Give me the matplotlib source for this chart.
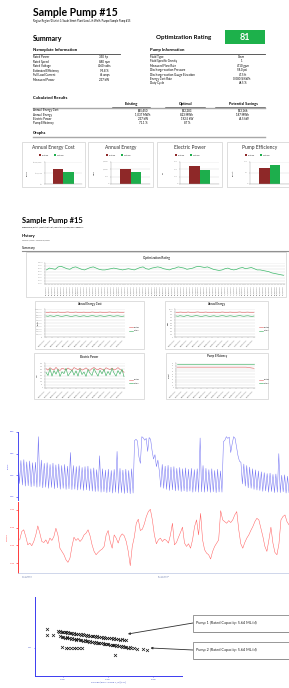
import numpy as np
import pandas as pd
import matplotlib
matplotlib.use("Agg")
import matplotlib.pyplot as plt
from matplotlib.lines import Line2D
from matplotlib.patches import Rectangle

plt.rcParams["font.family"] = ["Lato", "DejaVu Sans"]

W, H = 289, 688

# ---------------- data ----------------
nameplate_labels = ["Rated Power", "Rated Speed", "Rated Voltage", "Estimated Efficiency",
                    "Full Load Current", "Measured Power"]
nameplate_values = ["350 hp", "880 rpm", "4160 volts", "95.8 %", "46 amps", "237 kW"]
pump_labels = ["Fluid Type", "Fluid Specific Gravity", "Measured Flow Rate", "Discharge-suction Pressure",
               "Discharge-suction Gauge Elevation", "Energy Cost Rate", "Duty Cycle"]
pump_values = ["Clean", "1", "4710 gpm", "58.0 psi", "47.5 ft", "0.080 $/kWh", "48.5 %"]

calc_rows = ["Annual Energy Cost", "Annual Energy", "Electric Power", "Pump Efficiency"]
calc_existing = ["$65,450", "1,037 MWh", "237 kW", "71.1 %"]
calc_optimal = ["$52,283", "823 MWh", "192.5 kW", "87 %"]
calc_savings = ["$13,166", "187 MWh", "44.5 kW", ""]

bar_titles = ["Annual Energy Cost", "Annual Energy", "Electric Power", "Pump Efficiency"]
bar_existing = [65450, 1037, 237, 71.1]
bar_optimal = [52283, 823, 192.5, 87]
bar_units = ["Dollars", "MWh", "kW", "Percent"]
bar_ticks = [[0, 50000, 100000], [0, 500, 1000, 1500], [0, 100, 200, 300], [0, 50, 100]]
bar_ticklabels = [["$0", "$50,000", "$100,000"], ["0", "500", "1,000", "1,500"],
                  ["0", "100", "200", "300"], ["0", "50", "100"]]

opt_rating = [88, 91, 90, 89, 93, 94, 92, 90, 89, 92,
              93, 91, 89, 88, 90, 92, 93, 91, 89, 88,
              88, 89, 90, 91, 90, 89, 88, 89, 90, 89,
              88, 90, 92, 93, 90, 89, 91, 92, 93, 92,
              90, 89, 88, 90, 91, 93, 92, 91, 89, 90,
              91, 93, 94, 93, 92, 93, 91, 89, 88, 87,
              88, 90, 91, 89, 88, 89, 91, 92, 90, 91,
              92, 90, 88, 88, 87, 86, 85, 83, 82, 81,
              80, 79]
opt_dates = pd.date_range("2009-01-01", periods=len(opt_rating), freq="5D").strftime("%m/%d/%Y")

cost_exist = [88000, 87200, 89000, 88500, 86800, 87700, 89300, 88100, 86600, 87400,
              88900, 89500, 87900, 87000, 88400, 89100, 87600, 86800, 88200, 88800,
              87300, 86500, 87900, 89200, 88600, 87100, 87800, 89000, 88300, 86900,
              87500, 88700, 89400, 88000, 87200, 88500, 88900, 87700, 87000, 88100]
cost_opt = [75200, 74000, 76000, 74800, 73500, 75700, 76300, 74500, 73800, 75000,
            76500, 75500, 74100, 73600, 75300, 76000, 74700, 73300, 74900, 75800,
            74200, 73700, 75100, 76200, 75400, 73900, 74600, 75900, 75000, 73400,
            74400, 75600, 76400, 74800, 74000, 75300, 75800, 74500, 73700, 74900]
energy_exist = [880, 872, 890, 885, 868, 877, 893, 881, 866, 874,
                889, 895, 879, 870, 884, 891, 876, 868, 882, 888,
                873, 865, 879, 892, 886, 871, 878, 890, 883, 869,
                875, 887, 894, 880, 872, 885, 889, 877, 870, 881]
energy_opt = [752, 740, 760, 748, 735, 757, 763, 745, 738, 750,
              765, 755, 741, 736, 753, 760, 747, 733, 749, 758,
              742, 737, 751, 762, 754, 739, 746, 759, 750, 734,
              744, 756, 764, 748, 740, 753, 758, 745, 737, 749]
power_exist = [310, 285, 325, 300, 290, 330, 295, 280, 315, 305,
               288, 320, 298, 283, 327, 310, 292, 318, 286, 300,
               322, 296, 281, 312, 328, 303, 289, 317, 299, 284,
               324, 308, 293, 319, 287, 302, 326, 297, 282, 250]
power_opt = [250, 200, 310, 190, 280, 220, 300, 185, 260, 230,
             315, 195, 240, 290, 205, 275, 190, 305, 215, 255,
             185, 295, 235, 200, 310, 245, 190, 285, 225, 300,
             195, 265, 210, 315, 240, 190, 280, 220, 300, 180]
eff_exist = [75, 75, 75, 75, 75, 75, 75, 75, 75, 75,
             75, 75, 75, 75, 75, 75, 75, 75, 75, 75,
             75, 75, 75, 75, 75, 75, 75, 75, 75, 75,
             75, 75, 75, 75, 75, 75, 74, 73, 72, 71]
eff_opt = [87, 87, 87, 87, 87, 87, 87, 87, 87, 87,
           87, 87, 87, 87, 87, 87, 87, 87, 87, 87,
           87, 87, 87, 87, 87, 87, 87, 87, 87, 87,
           87, 87, 87, 87, 87, 87, 87, 87, 87, 87]
hist_dates = pd.date_range("2009-01-01", periods=len(cost_exist), freq="10D").strftime("%m/%d/%Y")

blue_flow = [
    1.75, 0.62, 1.68, 0.55, 1.72, 0.50, 1.62, 0.52, 1.66, 0.47, 1.58, 0.50, 1.60, 0.45, 2.78, 0.48,
    1.70, 0.42, 1.55, 0.45, 1.58, 0.40, 1.50, 0.44, 1.56, 0.38, 1.48, 0.42, 1.52, 0.36, 1.45, 0.40,
    1.50, 0.35, 1.42, 0.38, 2.05, 0.34, 1.45, 0.36, 1.40, 0.32, 1.44, 0.35, 1.36, 0.30, 1.40, 0.33,
    1.42, 0.29, 1.30, 0.27, 1.34, 0.25, 1.26, 0.26, 1.90, 0.22, 1.30, 0.24, 1.24, 0.20, 1.28, 0.23,
    1.22, 0.18, 1.27, 0.22, 2.10, 0.17, 1.32, 0.20, 1.24, 0.16, 1.28, 0.19, 1.22, 0.15, 1.30, 0.18,
    2.60, 2.66, 2.58, 1.85, 1.55, 2.78, 2.72, 2.62, 2.70, 2.10, 2.74, 2.66, 2.15, 1.75, 1.95, 1.40, 1.70,
    1.20, 0.45, 1.50, 0.40, 1.42, 0.35, 1.46, 0.30, 1.38, 0.33, 1.40, 0.28, 1.32, 0.30, 1.36, 0.25,
    1.30, 0.28, 1.34, 0.24, 1.28, 0.27, 1.32, 0.22, 1.26, 0.25, 1.30, 0.22, 2.72, 0.24, 1.45, 0.22,
    1.32, 0.25, 1.26, 0.21, 1.30, 0.24, 1.22, 0.20, 1.28, 0.23, 1.20, 0.22,
    2.55, 2.62, 2.78, 2.70, 2.76, 2.05, 2.45, 2.78, 2.70, 2.30, 1.90, 1.65,
    1.60, 0.60, 1.52, 0.50, 1.45, 0.42, 1.38, 0.40, 1.30, 0.35, 1.25, 0.32, 1.20, 0.30, 1.16, 0.26,
    1.12, 0.28, 1.08, 0.22, 1.10, 0.25, 1.04, 0.20, 1.06, 0.22, 2.00, 0.20, 1.00, 0.24, 1.02, 0.18, 0.96, 0.20,
]
red_power = [
    2310, 2780, 2880, 2500, 2030, 2130, 1980, 2220, 2590, 3100, 2690, 2220, 2160, 2310, 2090,
    2410, 2280, 2500, 2970, 2590, 1840, 1660, 1470, 1190, 1040, 1280, 1940, 2460, 2280, 2390,
    2220, 2350, 2590, 2690, 2880, 2540, 2030, 1660, 1470, 1600, 1710, 1790, 1940, 2590, 2840,
    2220, 1840, 2590, 2410, 2130, 2500, 2650, 2540, 2220, 1660, 850, 1940, 2460, 3250, 3480,
    2840, 2910, 3210, 3630, 3910, 4040, 3440, 2590, 2090, 2310, 2410, 2220, 2350, 2280, 2130,
    2590, 3250, 2030, 2160, 2460, 2730, 3030, 2130, 1940, 2090, 1840, 2310, 3060, 3440, 2590,
    3810, 2310, 1750, 1560, 1470, 1230, 1660, 1940, 2130, 2310, 3960, 3440, 3340, 3250, 3400,
    3290, 3440, 3720, 3910, 2880, 2090, 1840, 2160, 2410, 2590, 2840, 3060, 3340, 3530, 3440,
    2970, 2500, 1940, 1660, 2310, 3030, 2130, 1600, 1470, 2090, 3440, 3630, 3720, 3340, 3160,
]
ts_days = 94
ts_ticks = [1.4, 48.6]
ts_ticklabels = ["10/1/2009\n12:00 AM", "11/17/2009\n12:00 AM"]

pump1_kw = [39.4, 39.6, 39.7, 39.9, 40.0, 40.2, 40.3, 40.5, 40.6, 40.8, 40.9, 41.1, 41.2, 41.4, 41.5,
            41.7, 41.9, 42.0, 42.2, 42.3, 42.5, 42.7, 42.8, 43.0, 43.2, 43.3, 43.5, 43.7, 43.8, 44.0,
            44.2, 44.4, 44.5, 44.7, 44.9, 45.1, 45.3, 45.5, 45.7, 45.9, 46.1, 46.3, 46.5, 46.8, 47.0]
pump1_y = [0.01173, 0.01165, 0.01169, 0.01161, 0.01165, 0.01157, 0.01161, 0.01153, 0.01157, 0.01149,
           0.01153, 0.01145, 0.01149, 0.01141, 0.01145, 0.01137, 0.01141, 0.01133, 0.01137, 0.01129,
           0.01133, 0.01125, 0.01129, 0.01121, 0.01125, 0.01117, 0.01121, 0.01113, 0.01117, 0.01109,
           0.01113, 0.01105, 0.01109, 0.01101, 0.01105, 0.01097, 0.01101, 0.01093, 0.01097, 0.01089,
           0.01093, 0.01085, 0.01089, 0.01081, 0.01085]
pump2_kw = [39.7, 39.9, 40.0, 40.2, 40.4, 40.5, 40.7, 40.9, 41.0, 41.2, 41.4, 41.5, 41.7, 41.9, 42.0,
            42.2, 42.4, 42.5, 42.7, 42.9, 43.0, 43.2, 43.4, 43.5, 43.7, 43.9, 44.0, 44.2, 44.4, 44.5,
            44.7, 44.9, 45.0, 45.2, 45.4, 45.5, 45.7, 45.9, 46.0, 46.2, 46.4, 46.5, 46.7, 46.9, 47.0,
            47.2, 47.4, 47.6, 47.9, 48.2]
pump2_y = [0.01116, 0.01108, 0.01111, 0.01103, 0.01107, 0.01098, 0.01102, 0.01093, 0.01097, 0.01089,
           0.01092, 0.01084, 0.01088, 0.01079, 0.01083, 0.01074, 0.01078, 0.01070, 0.01073, 0.01065,
           0.01069, 0.01060, 0.01064, 0.01055, 0.01059, 0.01051, 0.01054, 0.01046, 0.01050, 0.01041,
           0.01045, 0.01037, 0.01040, 0.01032, 0.01035, 0.01027, 0.01031, 0.01022, 0.01026, 0.01018,
           0.01021, 0.01013, 0.01016, 0.01008, 0.01012, 0.01003, 0.01007, 0.00999, 0.01002, 0.00994]
other_kw = [39.9, 40.3, 40.6, 40.9, 41.2, 41.5, 41.8, 42.1, 38.2, 38.2, 38.9, 45.8, 48.9, 49.3]
other_y = [0.01008, 0.01002, 0.01005, 0.00999, 0.01003, 0.00998, 0.01001, 0.00997,
           0.0119, 0.0113, 0.0113, 0.0093, 0.0099, 0.0098]
pump_notes = ["Pump 1 (Rated Capacity: 5.64 ML/d)", "Pump 2 (Rated Capacity: 5.64 ML/d)"]

EXIST = "#8E2828"
OPT = "#1DAE4C"
GRID = "#D8D8D8"

fig = plt.figure(figsize=(W / 100, H / 100), dpi=100)


def fx(x):
    return x / W


def fy(y):
    return 1 - y / H


def text(x, y, s, size, **kw):
    kw.setdefault("va", "center")
    fig.text(fx(x), fy(y), s, fontsize=size, **kw)


def hline(x0, x1, y, lw=0.5, color="#808080"):
    fig.add_artist(Line2D([fx(x0), fx(x1)], [fy(y), fy(y)], lw=lw, color=color))


def box(x0, y0, x1, y1, ec="#D0D0D0", fc="none", lw=0.5, z=0):
    fig.add_artist(Rectangle((fx(x0), fy(y1)), (x1 - x0) / W, (y1 - y0) / H,
                             transform=fig.transFigure, ec=ec, fc=fc, lw=lw, zorder=z))


def axes_px(x0, y0, x1, y1):
    a = fig.add_axes([fx(x0), fy(y1), (x1 - x0) / W, (y1 - y0) / H])
    a.patch.set_alpha(0)
    return a


def excel_axes(a, yticks, ylabels, size=1.5):
    a.set_yticks(yticks)
    a.set_yticklabels(ylabels, fontsize=size, color="#404040")
    a.set_ylim(yticks[0], yticks[-1])
    a.yaxis.grid(True, color=GRID, lw=0.3)
    a.set_axisbelow(True)
    for s in ["top", "right"]:
        a.spines[s].set_visible(False)
    a.spines["left"].set_color("#A0A0A0")
    a.spines["bottom"].set_color("#A0A0A0")
    a.spines["left"].set_linewidth(0.3)
    a.spines["bottom"].set_linewidth(0.3)
    a.tick_params(length=0.8, width=0.3, pad=0.8, colors="#A0A0A0")


# ---------------- page 1 ----------------
text(33, 13, "Sample Pump #15", 7.6, weight="bold")
text(33, 21, "Region Region/District 1/South Street Plant/Low Lift Wells/Pumps/Sample Pump #15", 1.9)
text(33, 39, "Summary", 5, weight="bold")
text(156, 37, "Optimization Rating", 4.4, weight="bold")
box(225, 30, 265, 44, ec="none", fc="#1DB14B")
text(245, 37, "81", 6.5, weight="bold", color="white", ha="center")

text(33, 50.5, "Nameplate Information", 3.1, weight="bold")
hline(33, 120, 53.8, lw=0.6, color="#404040")
for i, (lab, val) in enumerate(zip(nameplate_labels, nameplate_values)):
    text(33, 57 + i * 4.6, lab, 2.1)
    text(104, 57 + i * 4.6, val, 2.1, ha="center")

text(150, 50.5, "Pump Information", 3.1, weight="bold")
hline(150, 265, 53.8, lw=0.6, color="#404040")
for i, (lab, val) in enumerate(zip(pump_labels, pump_values)):
    text(150, 57 + i * 4.4, lab, 2.1)
    text(242, 57 + i * 4.4, val, 2.1, ha="center")

text(33, 98, "Calculated Results", 3.1, weight="bold")
for cx, head in zip([131, 186, 243], ["Existing", "Optimal", "Potential Savings"]):
    text(cx, 104.5, head, 2.7, weight="bold", ha="center")
hline(33, 265, 108, lw=1.0, color="#A8A8A8")
for x0, x1 in [(112, 150), (165, 205), (215, 265)]:
    hline(x0, x1, 107.3, lw=0.4, color="#303030")
for i, lab in enumerate(calc_rows):
    y = 110.5 + i * 4.3
    text(33, y, lab, 2.1)
    text(143, y, calc_existing[i], 2.1, ha="center")
    text(187, y, calc_optimal[i], 2.1, ha="center")
    text(243, y, calc_savings[i], 2.1, ha="center")

text(33, 133, "Graphs", 3.1, weight="bold")
hline(33, 265, 137, lw=1.0, color="#A8A8A8")

bar_boxes = [(21.7, 85), (88, 153), (157, 222), (227, 292)]
for i, (bx0, bx1) in enumerate(bar_boxes):
    box(bx0, 141.7, bx1, 187.3)
    cx = (bx0 + bx1) / 2
    text(cx, 147.7, bar_titles[i], 3.5, ha="center", color="#303030")
    box(cx - 14.5, 154.3, cx - 12.5, 156.3, ec="none", fc=EXIST)
    text(cx - 11.8, 155.3, "Existing", 1.5, color="#404040")
    box(cx + 0.5, 154.3, cx + 2.5, 156.3, ec="none", fc=OPT)
    text(cx + 3.2, 155.3, "Optimal", 1.5, color="#404040")
    ax = axes_px(bx0 + 23, 161.7, min(bx1 - 3, 289), 184)
    ax.bar([-0.14], [bar_existing[i]], 0.28, color=EXIST)
    ax.bar([0.14], [bar_optimal[i]], 0.28, color=OPT)
    ax.set_xlim(-0.5, 0.5)
    ax.set_xticks([])
    excel_axes(ax, bar_ticks[i], bar_ticklabels[i], 1.6)
    text(bx0 + 6, 173, bar_units[i], 1.4, rotation=90, ha="center")

# ---------------- page 2 ----------------
text(22, 221, "Sample Pump #15", 5.4, weight="bold")
text(22, 227.5, "Region Region/District 1/South Street Plant/Low Lift Wells/Pumps/Sample Pump #15", 1.2)
text(22, 236, "History", 3, weight="bold")
text(22, 240.8, "January 1, 2009 - January 31, 2010", 1.3)
text(22, 248, "Summary", 2.4)
hline(22, 289, 250.5, lw=0.8, color="#909090")

box(26, 252, 286, 297)
text(156, 257.7, "Optimization Rating", 2.2, ha="center", weight="bold", color="#303030")
ax = axes_px(45, 262.7, 285, 283.7)
ax.plot(range(len(opt_rating)), opt_rating, color="#3DB86A", lw=0.5)
excel_axes(ax, [65, 70, 75, 80, 85, 90, 95, 100], ["%.2f" % v for v in [65, 70, 75, 80, 85, 90, 95, 100]], 1.3)
ax.set_xlim(-0.5, len(opt_rating) - 0.5)
ax.set_xticks(range(len(opt_rating)))
ax.set_xticklabels(opt_dates, rotation=90, fontsize=1.2, color="#404040")

hist_charts = [
    ((35, 300.7, 144, 349), (45, 309, 125, 337), "Annual Energy Cost", cost_exist, cost_opt,
     list(range(0, 100001, 10000)), lambda v: "${:,}".format(v), "Dollars"),
    ((165, 300.7, 268, 349), (175, 309, 255, 337), "Annual Energy", energy_exist, energy_opt,
     list(range(0, 1001, 100)), lambda v: "{:,}".format(v), "MWh"),
    ((34, 352.7, 144, 399), (45, 363, 125, 388), "Electric Power", power_exist, power_opt,
     list(range(0, 401, 50)), lambda v: str(v), "kW"),
    ((166, 352.7, 268, 399), (176, 363, 255, 388), "Pump Efficiency", eff_exist, eff_opt,
     list(range(0, 91, 10)), lambda v: str(v), "Percent"),
]
for (bx, plot, title, ex, op, ticks, fmt, unit) in hist_charts:
    box(*bx)
    text((bx[0] + bx[2]) / 2, bx[1] + 3.8, title, 2.1, ha="center", weight="bold", color="#303030")
    ax = axes_px(*plot)
    idx = range(len(ex))
    ax.plot(idx, ex, color="#E06060", lw=0.4)
    ax.plot(idx, op, color="#2EAA55", lw=0.4)
    excel_axes(ax, ticks, [fmt(v) for v in ticks], 1.3)
    ax.set_xlim(-0.5, len(ex) - 0.5)
    ax.set_xticks(list(idx)[::3])
    ax.set_xticklabels(hist_dates[::3], rotation=45, ha="right", fontsize=1.3, color="#404040")
    text(bx[0] + 3, (plot[1] + plot[3]) / 2, unit, 1.2, rotation=90, ha="center")
    ly = (plot[1] + plot[3]) / 2 + 4
    hline(plot[2] + 4, plot[2] + 8, ly, lw=0.4, color="#E06060")
    text(plot[2] + 9, ly, "Existing", 1.2)
    hline(plot[2] + 4, plot[2] + 8, ly + 3.5, lw=0.4, color="#2EAA55")
    text(plot[2] + 9, ly + 3.5, "Optimal", 1.2)

# ---------------- trend screenshot ----------------
BLUE = "#4A4AF0"
RED = "#FF3B3B"
axb = axes_px(18, 431.7, 289, 500)
axb.plot(np.linspace(0, ts_days, len(blue_flow)), blue_flow, color="#7070F2", lw=0.35)
axb.set_xlim(0, ts_days)
axb.set_ylim(-0.14, 3.01)
axb.set_yticks([0, 1, 2, 3])
axb.set_yticklabels(["0.00", "1.00", "2.00", "3.00"], fontsize=1.6, color=BLUE)
axb.set_xticks([])
for s in ["top", "right", "bottom"]:
    axb.spines[s].set_visible(False)
axb.spines["left"].set_color(BLUE)
axb.spines["left"].set_linewidth(0.7)
axb.tick_params(axis="y", length=1.5, width=0.5, color=BLUE, pad=1)
axb.set_ylabel("FLOW", fontsize=1.5, color=BLUE, labelpad=1)

axr = axes_px(18, 501.7, 289, 573)
axr.plot(np.linspace(0.6, ts_days, len(red_power)), red_power, color="#FF5A5A", lw=0.35)
axr.set_xlim(0, ts_days)
axr.set_ylim(437, 4469)
axr.set_yticks([1000, 2000, 3000, 4000])
axr.set_yticklabels(["1000", "2000", "3000", "4000"], fontsize=1.6, color=RED)
axr.set_xticks(ts_ticks)
axr.set_xticklabels(ts_ticklabels, fontsize=1.5, color="#7080B0", ha="left")
for s in ["top", "right"]:
    axr.spines[s].set_visible(False)
axr.spines["left"].set_color(RED)
axr.spines["left"].set_linewidth(0.7)
axr.spines["bottom"].set_color("#C8D0E8")
axr.spines["bottom"].set_linewidth(0.6)
axr.tick_params(axis="y", length=1.5, width=0.5, color=RED, pad=1)
axr.tick_params(axis="x", length=1, width=0.3, color="#C8D0E8", pad=0.8)
axr.set_ylabel("POWER", fontsize=1.5, color=RED, labelpad=1)

# ---------------- scatter screenshot ----------------
axs = axes_px(35, 597, 182, 676)
for xs, ys in [(pump1_kw, pump1_y), (pump2_kw, pump2_y), (other_kw, other_y)]:
    axs.scatter(xs, ys, marker="x", s=4.5, lw=0.5, color="#1A1A1A")
axs.set_xlim(36.9, 53.2)
axs.set_ylim(0.0072, 0.0151)
axs.set_xticks([40, 45, 50])
axs.set_xticklabels(["40.00", "45.00", "50.00"], fontsize=1.6, color="#5060C8")
axs.set_yticks([0.01])
axs.set_yticklabels(["0.01"], fontsize=1.6, color="#5060C8")
for s in ["top", "right"]:
    axs.spines[s].set_visible(False)
for s in ["left", "bottom"]:
    axs.spines[s].set_color("#3B3BF0")
    axs.spines[s].set_linewidth(0.7)
axs.tick_params(length=1, width=0.4, color="#3B3BF0", pad=1)
axs.set_xlabel("POWER (EDUNCORR T_D) [kW]", fontsize=1.7, color="#5060C8", labelpad=1.2)

note_y = [623, 650]
arrow_tips = [(47.2, 0.0114), (49.7, 0.0100)]
for note, ny, tip in zip(pump_notes, note_y, arrow_tips):
    box(194, ny - 7.5, 300, ny + 9.5, ec="none", fc="#C8C8C8", z=1)
    box(193, ny - 8.5, 298, ny + 8.5, ec="#707070", fc="white", lw=0.5, z=2)
    text(196, ny, note, 2.7, color="#202020", zorder=3)
    axs.annotate("", xy=tip, xytext=(fx(193), fy(ny)), textcoords="figure fraction",
                 arrowprops=dict(arrowstyle="-|>", lw=0.6, color="#303030", mutation_scale=3,
                                 shrinkA=0, shrinkB=0), annotation_clip=False)

fig.savefig("out.png", dpi=100)
